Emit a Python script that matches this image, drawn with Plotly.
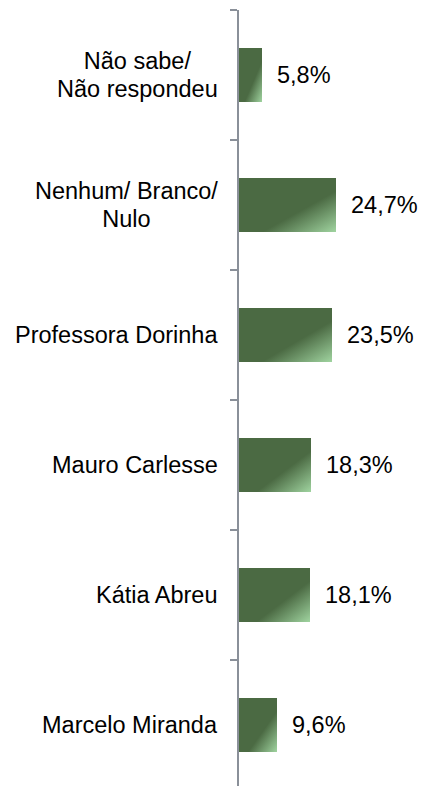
import plotly.graph_objects as go

# Data (bottom to top)
categories = ["Marcelo Miranda", "Kátia Abreu", "Mauro Carlesse",
              "Professora Dorinha", "Nenhum/ Branco/ Nulo", "Não sabe/ Não respondeu"]
cat_labels = ["Marcelo Miranda", "Kátia Abreu", "Mauro Carlesse",
              "Professora Dorinha", "Nenhum/ Branco/<br>Nulo", "Não sabe/<br>Não respondeu"]
values = [9.6, 18.1, 18.3, 23.5, 24.7, 5.8]
value_labels = [f"{v:.1f}".replace(".", ",") + "%" for v in values]

FONT = "Liberation Sans, Arial, sans-serif"
FS = 23.5

fig = go.Figure()
fig.add_trace(go.Bar(
    x=values, y=categories, orientation="h",
    width=0.41,
    marker=dict(color="#4b6a43", line=dict(width=0)),
    hoverinfo="skip",
))

annotations = []
for c, lab in zip(categories, cat_labels):
    annotations.append(dict(
        x=0, xref="paper", y=c, yref="y", text=lab, showarrow=False,
        xanchor="right", yanchor="middle", xshift=-19, align="center",
        font=dict(family=FONT, size=FS, color="#000000"),
    ))
for c, v, t in zip(categories, values, value_labels):
    annotations.append(dict(
        x=v, xref="x", y=c, yref="y", text=t, showarrow=False,
        xanchor="left", yanchor="middle", xshift=13,
        font=dict(family=FONT, size=FS, color="#000000"),
    ))

fig.update_layout(
    width=422, height=786,
    margin=dict(l=239, r=0, t=10, b=0),
    paper_bgcolor="white", plot_bgcolor="white",
    showlegend=False,
    bargap=0,
    annotations=annotations,
    xaxis=dict(range=[0, 46.4], visible=False, fixedrange=True),
    yaxis=dict(
        type="category", categoryorder="array", categoryarray=categories,
        range=[-0.4692, 5.5],
        showline=True, linecolor="#8a9099", linewidth=2,
        ticks="outside", tickson="boundaries", ticklen=7,
        tickcolor="#8a9099", tickwidth=2,
        showticklabels=False, showgrid=False, zeroline=False, fixedrange=True,
    ),
)

post = """
document.body.style.margin = '0';
document.body.style.padding = '0';
document.body.style.overflow = 'hidden';
var gd = document.getElementById('{plot_id}');
function applyStyle(){
  var svg = gd.querySelector('svg.main-svg');
  if(!svg) return;
  var ns = 'http://www.w3.org/2000/svg';
  var defs = svg.querySelector('defs');
  if(!defs){ defs = document.createElementNS(ns,'defs'); svg.insertBefore(defs, svg.firstChild); }
  if(!document.getElementById('bargrad')){
    var g = document.createElementNS(ns,'linearGradient');
    g.setAttribute('id','bargrad');
    g.setAttribute('x1','0'); g.setAttribute('y1','0');
    g.setAttribute('x2','1'); g.setAttribute('y2','1');
    var stops = [['0','#4b6a43'],['0.62','#4b6a43'],['1','#a0d4a0']];
    stops.forEach(function(s){
      var st = document.createElementNS(ns,'stop');
      st.setAttribute('offset', s[0]); st.setAttribute('stop-color', s[1]);
      g.appendChild(st);
    });
    defs.appendChild(g);
  }
  gd.querySelectorAll('.bars .point path').forEach(function(p){
    p.style.fill = 'url(#bargrad)';
  });
  // tighter line spacing for multi-line labels (1.18em instead of 1.3em)
  gd.querySelectorAll('text.annotation-text').forEach(function(t){
    var lines = t.querySelectorAll('tspan.line');
    var n = lines.length;
    if(n > 1){
      var off = (n - 1) * 0.06;
      lines.forEach(function(l, i){
        l.setAttribute('dy', (i * 1.18 + off).toFixed(3) + 'em');
      });
    }
  });
}
applyStyle();
gd.on('plotly_afterplot', applyStyle);
"""

fig.write_html("out.html", post_script=post, config={"displayModeBar": False})
